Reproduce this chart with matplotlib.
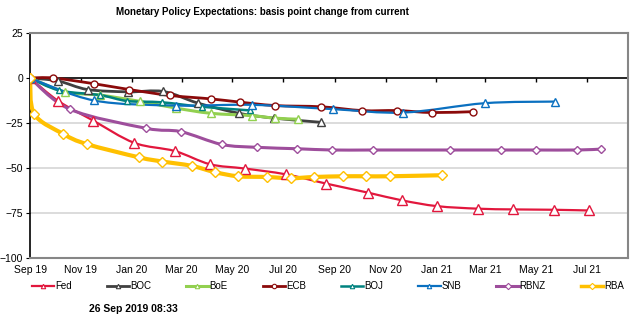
import matplotlib
matplotlib.use("Agg")
import matplotlib.pyplot as plt
import matplotlib.dates as mdates
import numpy as np
import pandas as pd
from matplotlib.path import Path
from matplotlib.patches import PathPatch
from matplotlib.lines import Line2D

plt.rcParams["font.family"] = ["Liberation Sans", "DejaVu Sans"]

# ---- data: basis point change from current, by meeting date ----
fed_dates = ["2019-09-26", "2019-10-30", "2019-12-11", "2020-01-29", "2020-03-18",
             "2020-04-29", "2020-06-10", "2020-07-29", "2020-09-16", "2020-11-05",
             "2020-12-16", "2021-01-27", "2021-03-17", "2021-04-28", "2021-06-16",
             "2021-07-28"]
fed_bp = [0, -12.8, -23.7, -36, -40.6, -47.9, -50.3, -53.5, -58.7, -63.7,
          -68, -71.2, -72.6, -73, -73.2, -73.6]

boc_dates = ["2019-09-26", "2019-10-30", "2019-12-04", "2020-01-22", "2020-03-04",
             "2020-04-15", "2020-06-03", "2020-07-15", "2020-09-09"]
boc_bp = [0, -1.7, -6.4, -7.7, -7.5, -14, -19.6, -22.3, -24.6]

boe_dates = ["2019-09-26", "2019-11-07", "2019-12-19", "2020-02-05", "2020-03-19",
             "2020-04-30", "2020-06-18", "2020-07-16", "2020-08-13"]
boe_bp = [0, -7.7, -9.5, -13, -16.7, -19.6, -20.9, -22.3, -22.9]

ecb_dates = ["2019-09-26", "2019-10-24", "2019-12-12", "2020-01-23", "2020-03-12",
             "2020-04-30", "2020-06-04", "2020-07-16", "2020-09-10", "2020-10-29",
             "2020-12-10", "2021-01-21", "2021-03-11"]
ecb_bp = [0, 0, -3.2, -6.4, -9.7, -11.6, -13.4, -15.3, -16, -18.1, -18.1, -19.2, -18.7]

boj_dates = ["2019-09-26", "2019-10-31", "2019-12-19", "2020-01-21", "2020-03-02",
             "2020-04-20", "2020-06-16"]
boj_bp = [0, -6.9, -9.5, -12.8, -13.5, -16, -18]

snb_dates = ["2019-09-26", "2019-12-12", "2020-03-19", "2020-06-18", "2020-09-24",
             "2020-12-17", "2021-03-25", "2021-06-17"]
snb_bp = [0, -12.5, -15.3, -14.9, -17.3, -19.2, -14, -13.1]

rbnz_dates = ["2019-09-26", "2019-11-13", "2020-02-12", "2020-03-25", "2020-05-13",
              "2020-06-24", "2020-08-12", "2020-09-23", "2020-11-11", "2021-02-11",
              "2021-04-14", "2021-05-26", "2021-07-14", "2021-08-12"]
rbnz_bp = [0, -17.4, -27.9, -29.8, -36.9, -38.5, -39.3, -40, -40, -40, -40, -40, -40, -39.5]

rba_dates = ["2019-09-26", "2019-10-01", "2019-11-05", "2019-12-03", "2020-02-04",
             "2020-03-03", "2020-04-07", "2020-05-05", "2020-06-02", "2020-07-07",
             "2020-08-04", "2020-09-01", "2020-10-06", "2020-11-03", "2020-12-01",
             "2021-02-02"]
rba_bp = [0, -20, -31.1, -36.7, -44.1, -46.4, -48.8, -52.3, -54.6, -55, -55.7,
          -55, -54.6, -54.6, -54.6, -54]

# name, dates, values, colour, line width, marker, marker size
series = [
    ("Fed", fed_dates, fed_bp, "#E2173D", 1.6, "^", 6.5),
    ("BOC", boc_dates, boc_bp, "#404040", 2.0, "^", 5.5),
    ("BoE", boe_dates, boe_bp, "#92D050", 2.2, "^", 6.0),
    ("ECB", ecb_dates, ecb_bp, "#8B0A0A", 2.0, "o", 5.0),
    ("BOJ", boj_dates, boj_bp, "#00827F", 1.8, "^", 4.5),
    ("SNB", snb_dates, snb_bp, "#0A70C0", 1.6, "^", 5.5),
    ("RBNZ", rbnz_dates, rbnz_bp, "#9E4E9C", 2.2, "D", 4.0),
    ("RBA", rba_dates, rba_bp, "#FFC000", 3.0, "D", 5.5),
]

x_start = pd.Timestamp("2019-09-26")
x_end = pd.Timestamp("2021-09-13")


def smooth_path(x, y):
    # Excel-style smoothed line: Catmull-Rom segments as cubic Beziers
    pts = np.column_stack([x, y])
    n = len(pts)
    verts, codes = [pts[0]], [Path.MOVETO]
    for i in range(n - 1):
        p0 = pts[max(i - 1, 0)]
        p1, p2 = pts[i], pts[i + 1]
        p3 = pts[min(i + 2, n - 1)]
        verts += [p1 + (p2 - p0) / 6, p2 - (p3 - p1) / 6, p2]
        codes += [Path.CURVE4] * 3
    return Path(verts, codes)


fig = plt.figure(figsize=(6.4, 3.28), dpi=100)
ax = fig.add_axes([0.047, 0.2134, 0.934, 0.686])

ax.set_ylim(-100, 25)
ax.set_xlim(mdates.date2num(x_start), mdates.date2num(x_end))

for y in (-75, -50, -25):
    ax.axhline(y, color="#D9D9D9", lw=1.3, zorder=0)
ax.axhline(0, color="black", lw=1.2, zorder=1)

ticks = pd.date_range(x_start, periods=12, freq=pd.DateOffset(months=2))
tick_nums = mdates.date2num(ticks)
ax.vlines(tick_nums, -2.2, 0, color="black", lw=1.0, zorder=1)
ax.set_xticks(tick_nums)
ax.set_xticklabels([t.strftime("%b %y") for t in ticks], fontsize=7.5)
ax.tick_params(axis="x", length=0, pad=5)
ax.set_yticks([25, 0, -25, -50, -75, -100])
ax.tick_params(axis="y", length=3, direction="out", labelsize=7.5, pad=2)

for name, dates, vals, col, lw, mk, ms in series:
    xs = mdates.date2num(pd.to_datetime(dates))
    patch = PathPatch(smooth_path(xs, np.array(vals, float)), fc="none", ec=col,
                      lw=lw, capstyle="round", joinstyle="round", zorder=3)
    ax.add_patch(patch)
    ax.plot(xs, vals, ls="none", marker=mk, ms=ms, mfc="white", mec=col,
            mew=1.0, zorder=4)

for side in ("top", "right", "bottom"):
    ax.spines[side].set_color("#868686")
    ax.spines[side].set_linewidth(1.5)
ax.spines["left"].set_color("black")
ax.spines["left"].set_linewidth(1.2)

handles = [Line2D([], [], color=col, lw=min(lw, 2.5), marker=mk, ms=3.2,
                  mfc="white", mec=col, mew=0.8)
           for name, dates, vals, col, lw, mk, ms in series]
fig.legend(handles, [s[0] for s in series], loc="center left", ncol=8,
           bbox_to_anchor=(0.05, 0.128, 0.925, 0.0), mode="expand",
           frameon=False, fontsize=7, handlelength=2.3, handletextpad=0.1,
           borderaxespad=0, borderpad=0)

fig.text(0.41, 0.962, "Monetary Policy Expectations: basis point change from current",
         ha="center", va="center", fontsize=7, fontweight="bold")
fig.text(0.208, 0.058, "26 Sep 2019 08:33", ha="center", va="center",
         fontsize=7.5, fontweight="bold")

fig.savefig("out.png", dpi=100)
